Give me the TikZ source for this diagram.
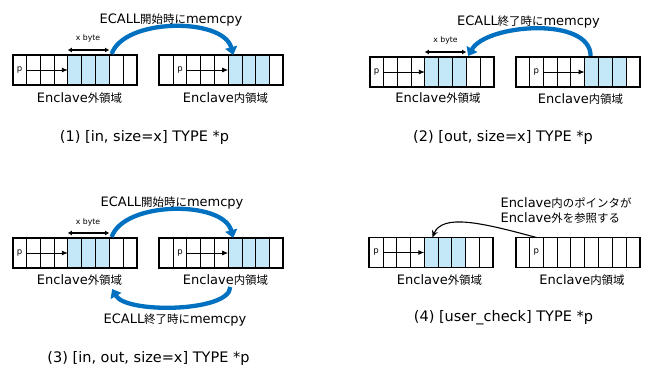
\documentclass[tikz,border=0pt]{standalone}
\usepackage{fontspec}
\setmainfont{DejaVu Sans}
\newfontfamily\jpfont[Scale=0.88]{Noto Sans CJK JP}
\newcommand{\jptext}[1]{{\jpfont #1}}
\usetikzlibrary{arrows.meta, calc}
\definecolor{cellblue}{RGB}{197,232,248}
\definecolor{copyblue}{RGB}{0,112,192}
\newcommand{\cellwd}{13.78}
\tikzset{
x=1pt, y=-1pt, % one unit is one pixel, y runs downwards
cell/.style={draw, line width=0.8pt, minimum width=\cellwd pt, minimum height=30pt, inner sep=0pt, outer sep=0pt}, % one byte
regionframe/.style={line width=1.8pt}, % border round a memory region
ptr/.style={-{Latex[length=6pt,width=5pt]}, line width=0.9pt}, % the pointer p
xbyte/.style={{Latex[length=4pt,width=5pt]}-{Latex[length=4pt,width=5pt]}, line width=1.4pt}, % size of the buffer
copyarrow/.style={-{Triangle[length=8pt,width=12pt]}, line width=4.3pt, copyblue}, % memcpy
refer/.style={-{Stealth[length=7pt,width=6pt]}, line width=1.1pt}, % pointer into the outside
lbl/.style={font=\fontsize{13}{15}\selectfont}, % region names and titles
casecap/.style={font=\fontsize{14.5}{17}\selectfont}, % caption of each case
smalllbl/.style={font=\fontsize{7.7}{9}\selectfont}, % x byte
plbl/.style={font=\fontsize{8.5}{10}\selectfont, inner sep=0pt}, % p in a cell
}
% #1 name, #2 left x, #3 middle y, #4..#5 blue cells
\newcommand{\memrow}[5]{%
  \foreach \i in {1,...,9}{
    \ifnum\i<#4 \tikzset{cur/.style={cell}}\else\ifnum\i>#5 \tikzset{cur/.style={cell}}\else\tikzset{cur/.style={cell, fill=cellblue}}\fi\fi
    \node[cur] (#1-\i) at ({#2+(\i-0.5)*\cellwd}, #3) {};
  }
  \draw[regionframe] (#1-1.north west) rectangle (#1-9.south east);
}

\begin{document}
\begin{tikzpicture}
\useasboundingbox (0,0) rectangle (646,369);

% (1) in
\memrow{out1}{12.7}{70}{5}{7}
\memrow{in1}{159.3}{70}{6}{8}
\node[plbl] (p1o) at (out1-1) {p};
\node[plbl] (p1i) at (in1-2) {p};
\draw[ptr] (out1-2.west) -- (out1-5.west);
\draw[ptr] (in1-3.west) -- (in1-6.west);
\draw[xbyte] ($(out1-5.north west)+(0,-5)$) -- ($(out1-7.north east)+(0,-5)$);
\node[smalllbl] (xb1) at (88,38) {x byte};
\draw[copyarrow] ($(out1-8.north west)+(2.5,-1)$) .. controls +(12,-36) and +(-10,-38) .. ($(in1-6.north west)+(5,0)$);
\node[lbl] (t1) at (171,20) {ECALL\jptext{開始時に}memcpy};
\node[lbl] (o1) at (79.5,98) {Enclave\jptext{外領域}};
\node[lbl] (i1) at (225.5,98) {Enclave\jptext{内領域}};
\node[casecap] (c1) at (144.5,137) {(1) [in, size=x] TYPE *p};

% (2) out
\memrow{out2}{369.7}{72}{5}{7}
\memrow{in2}{515.7}{72}{6}{8}
\node[plbl] (p2o) at (out2-1) {p};
\node[plbl] (p2i) at (in2-2) {p};
\draw[ptr] (out2-2.west) -- (out2-5.west);
\draw[ptr] (in2-3.west) -- (in2-6.west);
\draw[xbyte] ($(out2-5.north west)+(0,-5)$) -- ($(out2-7.north east)+(0,-5)$);
\node[smalllbl] (xb2) at (445.5,40) {x byte};
\draw[copyarrow] ($(in2-6.north west)+(6,-1)$) .. controls +(0,-40) and +(18,-32) .. ($(out2-8.north west)+(2,-1)$);
\node[lbl] (t2) at (528.5,22) {ECALL\jptext{終了時に}memcpy};
\node[lbl] (o2) at (438,98) {Enclave\jptext{外領域}};
\node[lbl] (i2) at (580.5,99) {Enclave\jptext{内領域}};
\node[casecap] (c2) at (503,137) {(2) [out, size=x] TYPE *p};

% (3) in, out
\memrow{out3}{12.7}{253}{5}{7}
\memrow{in3}{159.3}{253}{6}{8}
\node[plbl] (p3o) at (out3-1) {p};
\node[plbl] (p3i) at (in3-2) {p};
\draw[ptr] (out3-2.west) -- (out3-5.west);
\draw[ptr] (in3-3.west) -- (in3-6.west);
\draw[xbyte] ($(out3-5.north west)+(0,-5)$) -- ($(out3-7.north east)+(0,-5)$);
\node[smalllbl] (xb3) at (88,222) {x byte};
\draw[copyarrow] ($(out3-8.north west)+(2.5,-1)$) .. controls +(12,-36) and +(-10,-38) .. ($(in3-6.north west)+(5,0)$);
\draw[copyarrow] ($(in3-6.south west)+(2,19)$) .. controls +(0,25) and +(14,25) .. ($(out3-8.south west)+(3,21)$);
\node[lbl] (t3) at (172,203) {ECALL\jptext{開始時に}memcpy};
\node[lbl] (b3) at (175,320) {ECALL\jptext{終了時に}memcpy};
\node[lbl] (o3) at (79.5,280) {Enclave\jptext{外領域}};
\node[lbl] (i3) at (225.5,280) {Enclave\jptext{内領域}};
\node[casecap] (c3) at (148.5,358) {(3) [in, out, size=x] TYPE *p};

% (4) user_check
\memrow{out4}{369.2}{252.5}{5}{7}
\memrow{in4}{515.7}{252.5}{10}{10}
\node[plbl] (p4o) at (out4-1) {p};
\node[plbl] (p4i) at (in4-2) {p};
\draw[ptr] (out4-2.west) -- (out4-5.west);
\draw[refer] (in4-2.north) .. controls +(-55,-15) and +(10,-24) .. ($(out4-5.north west)+(8,0)$);
\node[lbl, align=left, anchor=west] (t4) at (497,210.5) {Enclave\jptext{内のポインタが}\\Enclave\jptext{外を参照する}};
\node[lbl] (o4) at (439.5,280) {Enclave\jptext{外領域}};
\node[lbl] (i4) at (582,280) {Enclave\jptext{内領域}};
\node[casecap] (c4) at (503.5,318) {(4) [user\_check] TYPE *p};
\end{tikzpicture}
\end{document}
